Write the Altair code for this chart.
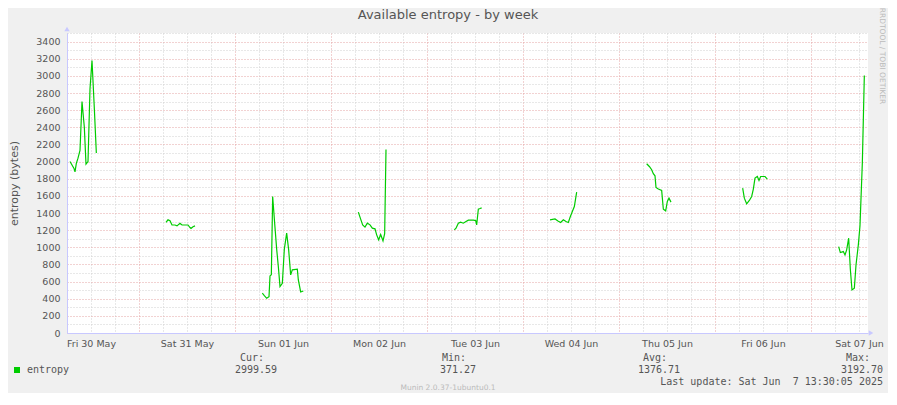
import altair as alt
import pandas as pd

# ---------------- data ----------------
seg_times = [
    ["2025-05-30 06:45", "2025-05-30 07:15", "2025-05-30 07:45", "2025-05-30 08:00", "2025-05-30 08:20",
     "2025-05-30 08:45", "2025-05-30 09:15", "2025-05-30 09:45", "2025-05-30 10:20", "2025-05-30 10:45",
     "2025-05-30 11:15", "2025-05-30 11:45", "2025-05-30 12:15", "2025-05-30 12:50", "2025-05-30 13:20"],
    ["2025-05-31 06:45", "2025-05-31 07:15", "2025-05-31 07:45", "2025-05-31 08:15", "2025-05-31 09:00",
     "2025-05-31 09:30", "2025-05-31 10:15", "2025-05-31 10:45", "2025-05-31 12:15", "2025-05-31 12:45",
     "2025-05-31 13:00", "2025-05-31 13:30", "2025-05-31 14:00"],
    ["2025-06-01 06:50", "2025-06-01 07:20", "2025-06-01 07:55", "2025-06-01 08:30", "2025-06-01 08:45",
     "2025-06-01 09:05", "2025-06-01 09:25", "2025-06-01 09:55", "2025-06-01 10:25", "2025-06-01 10:50",
     "2025-06-01 11:15", "2025-06-01 11:50", "2025-06-01 12:20", "2025-06-01 12:55", "2025-06-01 13:25",
     "2025-06-01 13:55", "2025-06-01 14:20", "2025-06-01 15:35", "2025-06-01 15:50", "2025-06-01 16:25",
     "2025-06-01 17:05"],
    ["2025-06-02 06:50", "2025-06-02 07:25", "2025-06-02 07:55", "2025-06-02 08:30", "2025-06-02 09:05",
     "2025-06-02 09:45", "2025-06-02 10:20", "2025-06-02 11:00", "2025-06-02 11:25", "2025-06-02 11:55",
     "2025-06-02 12:25", "2025-06-02 13:00", "2025-06-02 13:25", "2025-06-02 13:45"],
    ["2025-06-03 06:50", "2025-06-03 07:15", "2025-06-03 07:50", "2025-06-03 08:25", "2025-06-03 09:05",
     "2025-06-03 09:45", "2025-06-03 10:20", "2025-06-03 11:35", "2025-06-03 12:10", "2025-06-03 12:25",
     "2025-06-03 12:50", "2025-06-03 13:15", "2025-06-03 13:40"],
    ["2025-06-04 06:45", "2025-06-04 08:00", "2025-06-04 08:50", "2025-06-04 09:25", "2025-06-04 10:05",
     "2025-06-04 10:45", "2025-06-04 11:20", "2025-06-04 11:45", "2025-06-04 12:20", "2025-06-04 12:50",
     "2025-06-04 13:25"],
    ["2025-06-05 06:55", "2025-06-05 07:35", "2025-06-05 08:10", "2025-06-05 08:35", "2025-06-05 09:00",
     "2025-06-05 09:15", "2025-06-05 09:50", "2025-06-05 10:40", "2025-06-05 11:05", "2025-06-05 11:40",
     "2025-06-05 12:05", "2025-06-05 12:30", "2025-06-05 13:00"],
    ["2025-06-06 06:55", "2025-06-06 07:20", "2025-06-06 07:55", "2025-06-06 08:35", "2025-06-06 09:10",
     "2025-06-06 09:35", "2025-06-06 10:00", "2025-06-06 10:35", "2025-06-06 11:00", "2025-06-06 11:25",
     "2025-06-06 12:30", "2025-06-06 13:05"],
    ["2025-06-07 06:55", "2025-06-07 07:20", "2025-06-07 08:05", "2025-06-07 08:30", "2025-06-07 08:55",
     "2025-06-07 09:25", "2025-06-07 09:50", "2025-06-07 10:15", "2025-06-07 10:50", "2025-06-07 11:15",
     "2025-06-07 11:50", "2025-06-07 12:15", "2025-06-07 12:50", "2025-06-07 13:20"],
]
seg_values = [
    [2000, 1960, 1920, 1880, 1980, 2040, 2130, 2700, 2400, 1970, 2000, 2850, 3180, 2620, 2100],
    [1290, 1320, 1310, 1260, 1260, 1250, 1280, 1260, 1260, 1230, 1220, 1240, 1250],
    [464, 436, 405, 424, 666, 680, 1593, 1281, 978, 775, 541, 580, 978, 1165, 970, 678, 736, 744, 619, 479, 490],
    [1410, 1328, 1262, 1235, 1281, 1262, 1223, 1215, 1145, 1087, 1150, 1075, 1160, 2140],
    [1203, 1223, 1281, 1293, 1281, 1300, 1316, 1316, 1312, 1262, 1445, 1452, 1460],
    [1320, 1330, 1305, 1289, 1320, 1300, 1289, 1347, 1417, 1476, 1644],
    [1975, 1943, 1905, 1858, 1834, 1698, 1679, 1663, 1445, 1425, 1534, 1573, 1527],
    [1690, 1573, 1507, 1546, 1593, 1679, 1807, 1826, 1780, 1826, 1826, 1796],
    [1008, 938, 950, 911, 970, 1106, 744, 502, 522, 794, 1028, 1254, 1983, 3003],
]

series_name = "entropy"
stat_labels = ["Cur:", "Min:", "Avg:", "Max:"]
stat_values = [2999.59, 371.27, 1376.71, 3192.70]
title_text = "Available entropy - by week"
y_title = "entropy (bytes)"
last_update = "Last update: Sat Jun  7 13:30:05 2025"
footer = "Munin 2.0.37-1ubuntu0.1"
side_text = "RRDTOOL / TOBI OETIKER"

x_start = "2025-05-30 06:00"
x_end = "2025-06-07 14:15"
y_max = 3500

# ---------------- build table ----------------
rows = []
for i, (ts, vs) in enumerate(zip(seg_times, seg_values)):
    for t, v in zip(ts, vs):
        rows.append({"time": pd.Timestamp(t).strftime("%Y-%m-%dT%H:%M:%SZ"), "value": v, "seg": i})
df = pd.DataFrame(rows)


def ms(s):
    return int(pd.Timestamp(s, tz="UTC").value // 10**6)


x_ticks = [int(t.value // 10**6) for t in pd.date_range("2025-05-30 06:00", "2025-06-07 12:00", freq="6h", tz="UTC")]
y_ticks = list(range(0, y_max + 1, 100))

GREEN = "#00CC00"
TXT = "#555555"
MAJ = "#e4a4a4"
MIN = "#d0d0d0"
AXC = "#c8c8ff"

x_axis = alt.Axis(
    values=x_ticks,
    title=None,
    ticks=False,
    domainColor=AXC,
    domainWidth=1,
    grid=True,
    gridColor={"condition": {"test": "utchours(datum.value) === 0", "value": MAJ}, "value": MIN},
    gridDash=[1, 2],
    gridWidth=1,
    labelExpr="utchours(datum.value) === 12 ? utcFormat(datum.value, '%a %d %b') : ''",
    labelOverlap=False,
    labelFlush=False,
    labelBound=False,
    labelPadding=5,
    labelFont="DejaVu Sans",
    labelFontSize=9.5,
    labelColor=TXT,
)
y_axis = alt.Axis(
    values=y_ticks,
    title=y_title,
    ticks=False,
    domainColor=AXC,
    grid=True,
    gridColor={"condition": {"test": "datum.value % 200 === 0", "value": MAJ}, "value": MIN},
    gridDash=[1, 2],
    gridWidth=1,
    labelExpr="(datum.value % 200 === 0 && datum.value <= 3400) ? format(datum.value, 'd') : ''",
    labelOverlap=False,
    labelPadding=7,
    labelFont="DejaVu Sans",
    labelFontSize=9.5,
    labelColor=TXT,
    titleFont="DejaVu Sans",
    titleFontSize=11,
    titleFontWeight="normal",
    titleColor=TXT,
    titleX=-53,
    titleY=150,
    titleAngle=270,
    titleAlign="center",
    titleBaseline="middle",
)

line = alt.Chart(df).mark_line(color=GREEN, strokeWidth=1.2).encode(
    x=alt.X("time:T", scale=alt.Scale(type="utc", domain=[ms(x_start), ms(x_end)], nice=False), axis=x_axis),
    y=alt.Y("value:Q", scale=alt.Scale(domain=[0, y_max], nice=False), axis=y_axis),
    detail="seg:N",
)


def text_layer(text, x, y, size=10, font="DejaVu Sans Mono", color=TXT, align="center", baseline="middle", angle=0):
    kw = dict(font=font, fontSize=size, color=color, align=align, baseline=baseline)
    if angle:
        kw["angle"] = angle
    # keep runs of spaces visible in SVG
    shown = text.replace("  ", "\u00a0 ")
    return alt.Chart(pd.DataFrame({"label": [shown]})).mark_text(**kw).encode(
        x=alt.value(x), y=alt.value(y), text="label:N"
    )


layers = [line]
# title
layers.append(text_layer(title_text, 381, -14, size=13, font="DejaVu Sans", baseline="alphabetic"))
# side text
layers.append(text_layer(side_text, 815, 23, size=7.5, font="DejaVu Sans", color="#bbbbbb", angle=90))
# axis arrows
layers.append(alt.Chart(pd.DataFrame({"a": [0]})).mark_point(shape="triangle-up", filled=True, size=28, color=AXC, opacity=1).encode(
    x=alt.value(0), y=alt.value(-4)))
layers.append(alt.Chart(pd.DataFrame({"a": [0]})).mark_point(shape="triangle-right", filled=True, size=28, color=AXC, opacity=1).encode(
    x=alt.value(804), y=alt.value(300)))
# legend
layers.append(alt.Chart(pd.DataFrame({"a": [0]})).mark_square(size=36, color=GREEN, opacity=1).encode(
    x=alt.value(-50), y=alt.value(337)))
layers.append(text_layer(series_name, -40, 337, align="left"))
stat_x = [187, 389, 590, 793]
for lab, val, sx in zip(stat_labels, stat_values, stat_x):
    layers.append(text_layer(lab, sx - 2, 324.5))
    layers.append(text_layer(f"{val:.2f}", sx + 2, 337))
layers.append(text_layer(last_update, 816, 349, align="right"))
layers.append(text_layer(footer, 381, 355, size=7.5, font="DejaVu Sans", color="#bbbbbb"))

chart = alt.layer(*layers).properties(
    width=801,
    height=300,
    autosize=alt.AutoSizeParams(type="none"),
    padding={"left": 59, "top": 25, "right": 20, "bottom": 60},
    background="#F0F0F0",
).configure_view(stroke=None, fill="white")

chart.save("out.html", embed_options={"renderer": "svg", "actions": False})
